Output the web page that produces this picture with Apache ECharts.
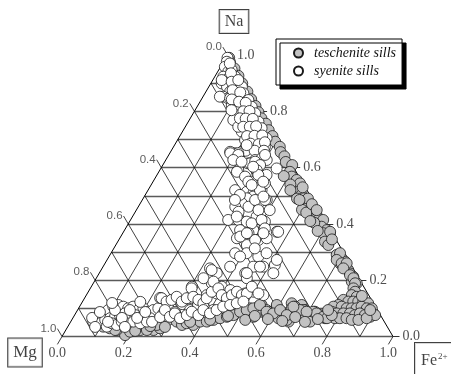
<!DOCTYPE html>
<html>
<head>
<meta charset="utf-8">
<script src="https://cdn.jsdelivr.net/npm/echarts@6/dist/echarts.min.js"></script>
<style>
  html, body { margin: 0; padding: 0; background: #fff; }
  #chart { width: 451px; height: 374px; }
</style>
</head>
<body>
<div id="chart"></div>
<script>
// Compositions as [Mg, Fe2+, Na] fractions
const tescheniteSills = [
  [0.000,0.010,0.990],[0.005,0.020,0.975],[0.003,0.045,0.952],[0.004,0.070,0.926],[0.006,0.095,0.899],
  [0.005,0.125,0.870],[0.007,0.150,0.843],[0.006,0.175,0.819],[0.008,0.195,0.797],[0.010,0.215,0.775],
  [0.006,0.238,0.756],[0.009,0.258,0.733],[0.008,0.280,0.712],[0.010,0.298,0.692],[0.005,0.321,0.674],
  [0.012,0.333,0.655],[0.008,0.352,0.640],[0.014,0.366,0.620],
  [0.000,0.391,0.609],[0.019,0.396,0.585],[0.022,0.410,0.568],[0.013,0.431,0.556],[0.009,0.447,0.544],
  [0.029,0.457,0.514],[0.025,0.472,0.503],[0.025,0.484,0.491],[0.026,0.495,0.479],[0.019,0.508,0.473],
  [0.033,0.512,0.455],[0.021,0.530,0.449],[0.022,0.540,0.438],[0.015,0.553,0.432],[0.029,0.557,0.414],
  [0.019,0.567,0.414],[0.004,0.582,0.414],[0.021,0.589,0.390],[0.011,0.611,0.378],[0.007,0.626,0.367],
  [0.023,0.622,0.355],[0.027,0.636,0.337],[0.027,0.606,0.367],[0.037,0.626,0.337],[0.033,0.642,0.325],
  [0.004,0.624,0.372],[0.040,0.420,0.540],[0.045,0.465,0.490],[0.050,0.500,0.450],[0.008,0.462,0.530],
  [0.012,0.498,0.490],[0.036,0.560,0.404],
  [0.045,0.385,0.570],[0.050,0.430,0.520],[0.040,0.475,0.485],[0.042,0.518,0.440],[0.010,0.520,0.470],
  [0.006,0.545,0.449],[0.045,0.545,0.410],[0.040,0.585,0.375],[0.012,0.643,0.345],
  [0.025,0.685,0.290],[0.016,0.706,0.278],[0.012,0.722,0.266],[0.030,0.710,0.260],[0.026,0.726,0.248],
  [0.017,0.747,0.236],[0.018,0.758,0.224],[0.014,0.774,0.212],[0.027,0.778,0.195],[0.015,0.796,0.189],
  [0.012,0.692,0.296],[0.034,0.694,0.272],[0.025,0.715,0.260],[0.010,0.730,0.260],[0.029,0.729,0.242],
  [0.021,0.761,0.218],[0.016,0.777,0.207],[0.020,0.791,0.189],
  [0.034,0.795,0.171],[0.035,0.806,0.159],[0.051,0.802,0.147],[0.039,0.820,0.141],[0.085,0.785,0.130],
  [0.073,0.803,0.124],[0.058,0.818,0.124],[0.043,0.833,0.124],[0.028,0.848,0.124],[0.016,0.866,0.118],
  [0.109,0.779,0.112],[0.127,0.767,0.106],[0.102,0.792,0.106],[0.090,0.810,0.100],[0.075,0.825,0.100],
  [0.060,0.840,0.100],[0.042,0.852,0.106],[0.029,0.871,0.100],[0.014,0.886,0.100],[0.141,0.771,0.088],
  [0.129,0.789,0.082],[0.109,0.809,0.082],[0.089,0.829,0.082],[0.077,0.847,0.076],[0.059,0.859,0.082],
  [0.047,0.877,0.076],[0.034,0.896,0.070],[0.016,0.908,0.076],[0.143,0.792,0.065],[0.128,0.807,0.065],
  [0.108,0.827,0.065],[0.095,0.846,0.059],[0.075,0.866,0.059],[0.047,0.888,0.065],[0.220,0.668,0.112],
  [0.219,0.687,0.094],[0.192,0.720,0.088],[0.216,0.714,0.070],[0.183,0.741,0.076],[0.173,0.762,0.065],
  [0.154,0.764,0.082],[0.022,0.834,0.144],[0.022,0.884,0.094],
  [0.341,0.547,0.112],[0.335,0.571,0.094],[0.322,0.590,0.088],[0.298,0.596,0.106],[0.305,0.613,0.082],
  [0.298,0.626,0.076],[0.301,0.640,0.059],[0.289,0.658,0.053],[0.247,0.635,0.118],[0.243,0.651,0.106],
  [0.244,0.662,0.094],[0.240,0.678,0.082],[0.224,0.682,0.094],[0.231,0.699,0.070],[0.224,0.723,0.053],
  [0.197,0.715,0.088],[0.190,0.728,0.082],[0.176,0.754,0.070],[0.167,0.768,0.065],[0.147,0.777,0.076],
  [0.441,0.477,0.082],[0.405,0.501,0.094],[0.382,0.518,0.100],[0.387,0.543,0.070],[0.354,0.540,0.106],
  [0.353,0.559,0.088],[0.341,0.577,0.082],[0.295,0.593,0.112],[0.297,0.615,0.088],[0.285,0.633,0.082],
  [0.314,0.621,0.065],[0.291,0.650,0.059],[0.263,0.661,0.076],[0.256,0.644,0.100],[0.234,0.672,0.094],
  [0.217,0.695,0.088],
  [0.649,0.292,0.059],[0.627,0.320,0.053],[0.617,0.342,0.041],[0.600,0.353,0.047],[0.583,0.376,0.041],
  [0.556,0.391,0.053],[0.536,0.411,0.053],[0.513,0.428,0.059],[0.490,0.445,0.065],[0.467,0.463,0.070],
  [0.444,0.480,0.076],[0.418,0.494,0.088],[0.395,0.511,0.094],[0.372,0.528,0.100],[0.346,0.542,0.112],
  [0.712,0.265,0.023],[0.689,0.282,0.029],[0.807,0.188,0.005],[0.786,0.197,0.017],[0.752,0.225,0.023],
  [0.732,0.245,0.023],[0.693,0.266,0.041],[0.823,0.154,0.023],[0.841,0.130,0.029],[0.858,0.107,0.035],
  [0.338,0.574,0.088],[0.321,0.597,0.082],[0.294,0.612,0.094],[0.283,0.641,0.076],[0.248,0.646,0.106],
  [0.828,0.149,0.023],[0.769,0.211,0.020],[0.715,0.248,0.037],[0.672,0.294,0.034],[0.587,0.361,0.052],
  [0.523,0.418,0.059],[0.462,0.465,0.073],[0.417,0.524,0.059],[0.381,0.546,0.073],[0.347,0.591,0.062],
  [0.307,0.638,0.055],[0.261,0.670,0.069],[0.240,0.708,0.052],[0.196,0.742,0.062],[0.149,0.757,0.094]
];

const syeniteSills = [
  [0.005,0.005,0.990],[0.014,0.010,0.976],[0.029,0.013,0.958],[0.027,0.032,0.941],[0.014,0.039,0.947],
  [0.051,0.026,0.923],[0.039,0.044,0.917],[0.015,0.062,0.923],[0.068,0.033,0.899],[0.058,0.055,0.887],
  [0.039,0.074,0.887],[0.018,0.083,0.899],[0.013,0.100,0.887],[0.057,0.073,0.870],[0.040,0.096,0.864],
  [0.020,0.116,0.864],[0.087,0.061,0.852],[0.075,0.079,0.846],[0.057,0.103,0.840],[0.037,0.123,0.840],
  [0.017,0.143,0.840],[0.076,0.102,0.822],[0.061,0.128,0.811],[0.039,0.145,0.816],[0.019,0.165,0.816],
  [0.083,0.130,0.787],[0.066,0.153,0.781],[0.043,0.170,0.787],[0.020,0.187,0.793],[0.088,0.155,0.757],
  [0.071,0.178,0.751],[0.048,0.195,0.757],[0.025,0.212,0.763],[0.093,0.179,0.728],[0.071,0.207,0.722],
  [0.048,0.224,0.728],[0.027,0.233,0.740],[0.098,0.204,0.698],[0.076,0.232,0.692],[0.053,0.249,0.698],
  [0.030,0.266,0.704],[0.100,0.226,0.674],[0.072,0.259,0.669],[0.050,0.276,0.674],[0.152,0.197,0.651],
  [0.129,0.215,0.656],[0.062,0.027,0.911],[0.097,0.051,0.852],[0.069,0.085,0.846],[0.098,0.133,0.769],
  [0.095,0.160,0.745],
  [0.008,0.022,0.970],[0.022,0.043,0.935],[0.035,0.060,0.905],[0.047,0.078,0.875],[0.028,0.105,0.867],
  [0.066,0.092,0.842],[0.048,0.118,0.834],[0.030,0.140,0.830],[0.086,0.110,0.804],[0.052,0.148,0.800],
  [0.033,0.166,0.801],[0.075,0.150,0.775],[0.058,0.168,0.774],[0.037,0.190,0.773],[0.080,0.175,0.745],
  [0.060,0.195,0.745],[0.040,0.213,0.747],[0.085,0.203,0.712],[0.062,0.225,0.713],[0.038,0.248,0.714],
  [0.088,0.227,0.685],[0.064,0.253,0.683],[0.042,0.268,0.690],[0.115,0.225,0.660],[0.088,0.252,0.660],
  [0.060,0.280,0.660],[0.012,0.077,0.911],
  [0.164,0.180,0.656],[0.142,0.207,0.651],[0.130,0.255,0.615],[0.103,0.270,0.627],[0.080,0.287,0.633],
  [0.068,0.305,0.627],[0.053,0.350,0.597],[0.172,0.237,0.591],[0.119,0.296,0.585],[0.095,0.331,0.574],
  [0.217,0.263,0.520],[0.185,0.301,0.514],[0.167,0.324,0.509],[0.137,0.343,0.520],[0.139,0.376,0.485],
  [0.170,0.357,0.473],[0.174,0.329,0.497],[0.215,0.312,0.473],[0.240,0.317,0.443],[0.218,0.344,0.438],
  [0.199,0.375,0.426],[0.183,0.409,0.408],[0.291,0.295,0.414],[0.260,0.326,0.414],[0.238,0.354,0.408],
  [0.233,0.389,0.378],[0.273,0.349,0.378],[0.297,0.354,0.349],[0.279,0.396,0.325],[0.235,0.422,0.343],
  [0.207,0.444,0.349],[0.165,0.463,0.372],[0.329,0.375,0.296],[0.265,0.451,0.284],[0.294,0.410,0.296],
  [0.268,0.484,0.248],[0.230,0.516,0.254],[0.249,0.526,0.225],[0.334,0.441,0.225],[0.432,0.326,0.242],
  [0.453,0.358,0.189],[0.429,0.394,0.177],[0.409,0.426,0.165],[0.338,0.455,0.207],[0.519,0.304,0.177],
  [0.540,0.324,0.136],[0.524,0.358,0.118],[0.489,0.364,0.147],[0.456,0.391,0.153],[0.437,0.433,0.130],
  [0.423,0.459,0.118],[0.394,0.470,0.136],[0.370,0.477,0.153],[0.342,0.499,0.159],[0.318,0.535,0.147],
  [0.496,0.410,0.094],[0.529,0.383,0.088],
  [0.166,0.183,0.651],[0.145,0.210,0.645],[0.102,0.218,0.680],[0.124,0.261,0.615],[0.106,0.273,0.621],
  [0.097,0.294,0.609],[0.064,0.291,0.645],[0.179,0.236,0.585],[0.116,0.293,0.591],[0.152,0.298,0.550],
  [0.120,0.306,0.574],[0.115,0.341,0.544],[0.142,0.338,0.520],[0.196,0.313,0.491],[0.220,0.307,0.473],
  [0.246,0.293,0.461],[0.245,0.312,0.443],[0.206,0.333,0.461],[0.174,0.341,0.485],[0.144,0.371,0.485],
  [0.182,0.369,0.449],[0.259,0.315,0.426],[0.226,0.372,0.402],[0.190,0.396,0.414],[0.195,0.421,0.384],
  [0.284,0.361,0.355],[0.253,0.380,0.367],[0.245,0.412,0.343],[0.161,0.467,0.372],
  [0.169,0.204,0.627],[0.147,0.232,0.621],[0.121,0.276,0.603],[0.163,0.269,0.568],[0.162,0.288,0.550],
  [0.117,0.333,0.550],[0.158,0.304,0.538],[0.211,0.286,0.503],[0.143,0.360,0.497],[0.235,0.280,0.485],
  [0.148,0.403,0.449],[0.258,0.375,0.367],[0.208,0.425,0.367],[0.261,0.426,0.313],[0.320,0.396,0.284],
  [0.368,0.384,0.248],[0.298,0.454,0.248],[0.234,0.470,0.296],[0.215,0.513,0.272],[0.420,0.355,0.225],
  [0.469,0.324,0.207],
  [0.879,0.068,0.053],[0.855,0.075,0.070],[0.834,0.084,0.082],[0.813,0.093,0.094],[0.792,0.102,0.106],
  [0.774,0.114,0.112],[0.762,0.132,0.106],[0.750,0.150,0.100],[0.732,0.162,0.106],[0.722,0.184,0.094],
  [0.704,0.196,0.100],[0.695,0.217,0.088],[0.677,0.229,0.094],[0.659,0.241,0.100],[0.653,0.265,0.082],
  [0.861,0.092,0.047],[0.840,0.101,0.059],[0.822,0.113,0.065],[0.805,0.125,0.070],[0.787,0.137,0.076],
  [0.769,0.149,0.082],[0.760,0.170,0.070],[0.741,0.183,0.076],[0.731,0.204,0.065],[0.714,0.216,0.070],
  [0.701,0.234,0.065],[0.847,0.118,0.035],[0.826,0.127,0.047],[0.814,0.145,0.041],[0.793,0.154,0.053],
  [0.781,0.172,0.047],[0.758,0.189,0.053],[0.740,0.213,0.047],[0.717,0.230,0.053],
  [0.876,0.058,0.066],[0.842,0.071,0.087],[0.835,0.113,0.052],[0.793,0.113,0.094],[0.786,0.148,0.066],
  [0.748,0.158,0.094],[0.740,0.194,0.066],[0.705,0.208,0.087],[0.702,0.246,0.052],[0.669,0.262,0.069],
  [0.626,0.266,0.108],[0.615,0.298,0.087],[0.579,0.306,0.115],[0.566,0.340,0.094],[0.533,0.355,0.112],
  [0.789,0.092,0.119],[0.702,0.175,0.123],[0.635,0.228,0.137],[0.883,0.083,0.034],[0.793,0.173,0.034],
  [0.631,0.233,0.136],[0.622,0.254,0.124],[0.604,0.266,0.130],[0.583,0.276,0.141],[0.576,0.300,0.124],
  [0.555,0.309,0.136],[0.523,0.306,0.171],[0.533,0.326,0.141],[0.523,0.347,0.130],[0.514,0.368,0.118],
  [0.495,0.369,0.136],[0.468,0.373,0.159],[0.445,0.360,0.195],[0.442,0.387,0.171],[0.444,0.409,0.147],
  [0.434,0.430,0.136],[0.413,0.440,0.147],[0.392,0.449,0.159],[0.383,0.470,0.147],[0.365,0.482,0.153],
  [0.338,0.485,0.177],[0.330,0.517,0.153],[0.642,0.264,0.094],[0.639,0.291,0.070],[0.618,0.300,0.082],
  [0.611,0.324,0.065],[0.585,0.339,0.076],[0.564,0.348,0.088],[0.550,0.374,0.076],[0.526,0.380,0.094],
  [0.512,0.406,0.082],[0.486,0.420,0.094],[0.460,0.434,0.106],[0.436,0.452,0.112],[0.413,0.469,0.118],
  [0.390,0.486,0.124],[0.430,0.334,0.236],[0.329,0.446,0.225],[0.278,0.474,0.248]
];

// Axis ticks shared by the three sides
const tickValues = [0, 0.2, 0.4, 0.6, 0.8, 1.0];
const tickLabels = ['0.0', '0.2', '0.4', '0.6', '0.8', '1.0'];
const gridFractions = [0.1, 0.2, 0.3, 0.4, 0.5, 0.6, 0.7, 0.8, 0.9];
const seriesNames = ['teschenite sills', 'syenite sills'];

// ternary [Mg, Fe, Na] -> cartesian (x along Mg->Fe base, y = Na height)
function toXY(mg, fe, na) {
  const s = mg + fe + na;
  return [fe / s + (na / s) / 2, na / s];
}
const pt = p => toXY(p[0], p[1], p[2]);

const TICK = 0.028;
const SERIF = "'Liberation Serif', 'Times New Roman', serif";
const SANS = "'Liberation Sans', Arial, sans-serif";

// Grid lines
const naLines = [0].concat(gridFractions).map(v => ({
  coords: [toXY(1 - v, 0, v), toXY(0, 1 - v, v)]
}));
const feLines = gridFractions.map(v => ({ coords: [toXY(1 - v, v, 0), toXY(0, v, 1 - v)] }));
const mgLines = gridFractions.map(v => ({ coords: [toXY(v, 1 - v, 0), toXY(v, 0, 1 - v)] }));
const edges = [
  { coords: [toXY(1, 0, 0), toXY(0, 0, 1)] },
  { coords: [toXY(0, 1, 0), toXY(0, 0, 1)] }
];

// Tick marks sticking out from the labelled side of each axis
const naTickEnds = tickValues.map(v => { const p = toXY(0, 1 - v, v); return [p[0] + TICK * 0.7, p[1]]; });
const mgTickEnds = tickValues.map(v => { const p = toXY(v, 0, 1 - v); return [p[0] - TICK / 2, p[1] + TICK]; });
const feTickEnds = tickValues.map(v => { const p = toXY(1 - v, v, 0); return [p[0] - TICK / 2, p[1] - TICK]; });

const naTicks = tickValues.map((v, i) => ({ coords: [toXY(0, 1 - v, v), naTickEnds[i]] }));
const mgTicks = tickValues.map((v, i) => ({ coords: [toXY(v, 0, 1 - v), mgTickEnds[i]] }));
const feTicks = tickValues.map((v, i) => ({ coords: [toXY(1 - v, v, 0), feTickEnds[i]] }));

function linesSeries(data, color, width) {
  return {
    type: 'lines', coordinateSystem: 'cartesian2d', silent: true, clip: false,
    z: 1, data: data, lineStyle: { color: color, width: width, opacity: 1 }
  };
}

function labelSeries(points, position, distance, font, size, color) {
  return {
    type: 'scatter', symbolSize: 0, silent: true, clip: false, z: 5,
    data: points.map((p, i) => ({
      value: p, name: tickLabels[i],
      label: { fontFamily: font, fontSize: size, color: color }
    })),
    label: {
      show: true, position: position, distance: distance,
      formatter: p => p.name, fontFamily: font, fontSize: size, color: color
    }
  };
}

const chart = echarts.init(document.getElementById('chart'));

chart.setOption({
  animation: false,
  backgroundColor: '#fff',
  textStyle: { fontFamily: SERIF },
  grid: { left: 62, right: 58, top: 55, bottom: 37.5 },
  xAxis: { type: 'value', min: 0, max: 1, show: false },
  yAxis: { type: 'value', min: 0, max: 1, show: false },
  legend: {
    data: seriesNames,
    orient: 'vertical',
    left: 276, top: 39,
    icon: 'circle',
    itemWidth: 9, itemHeight: 9, itemGap: 4,
    padding: [7, 6, 7, 17],
    backgroundColor: '#fff',
    borderColor: '#000', borderWidth: 1,
    shadowColor: '#000', shadowBlur: 0, shadowOffsetX: 4, shadowOffsetY: 4,
    textStyle: { fontFamily: SERIF, fontStyle: 'italic', fontSize: 14, color: '#111', padding: [0, 0, 0, 6] }
  },
  series: [
    linesSeries(naLines, '#5a5a5a', 1.3),
    linesSeries(feLines, '#111', 0.8),
    linesSeries(mgLines, '#111', 0.8),
    linesSeries(edges, '#000', 1),
    linesSeries(naTicks, '#333', 1),
    linesSeries(mgTicks, '#111', 0.8),
    linesSeries(feTicks, '#111', 0.8),
    {
      name: seriesNames[0], type: 'scatter', clip: false, z: 3,
      symbol: 'circle', symbolSize: 11,
      itemStyle: { color: '#c2c2c2', borderColor: '#1a1a1a', borderWidth: 0.8, opacity: 1 },
      data: tescheniteSills.map(pt)
    },
    {
      name: seriesNames[1], type: 'scatter', clip: false, z: 4,
      symbol: 'circle', symbolSize: 11,
      itemStyle: { color: '#ffffff', borderColor: '#1a1a1a', borderWidth: 0.8, opacity: 1 },
      data: syeniteSills.map(pt)
    },
    labelSeries(naTickEnds, 'right', 3, SERIF, 14, '#222'),
    labelSeries(feTickEnds, 'bottom', 2, SERIF, 14, '#222'),
    labelSeries(mgTickEnds, 'left', 1, SANS, 11.5, '#333'),
    // Vertex names in boxes
    {
      type: 'scatter', symbolSize: 0, silent: true, clip: false, z: 6,
      data: [
        { value: toXY(0, 0, 1), label: {
            position: [6.5, -33.5], align: 'center', verticalAlign: 'middle',
            formatter: 'Na', fontFamily: SERIF, fontSize: 16, padding: [4, 5, 3, 5] } },
        { value: toXY(1, 0, 0), label: {
            position: [-37, 16], align: 'center', verticalAlign: 'middle',
            formatter: 'Mg', fontFamily: SERIF, fontSize: 17, padding: [6, 5, 5, 5] } },
        { value: toXY(0, 1, 0), label: {
            position: [22, 6.5], align: 'left', verticalAlign: 'top',
            formatter: '{a|Fe}{b|2+}', padding: [9, 30, 14, 6],
            rich: {
              a: { fontFamily: SERIF, fontSize: 16, color: '#111' },
              b: { fontFamily: SERIF, fontSize: 9, color: '#111', verticalAlign: 'top', padding: [0, 0, 9, 1] }
            } } }
      ],
      label: {
        show: true, fontFamily: SERIF, color: '#111',
        backgroundColor: '#fff', borderColor: '#111', borderWidth: 1
      }
    }
  ]
});
</script>
</body>
</html>
